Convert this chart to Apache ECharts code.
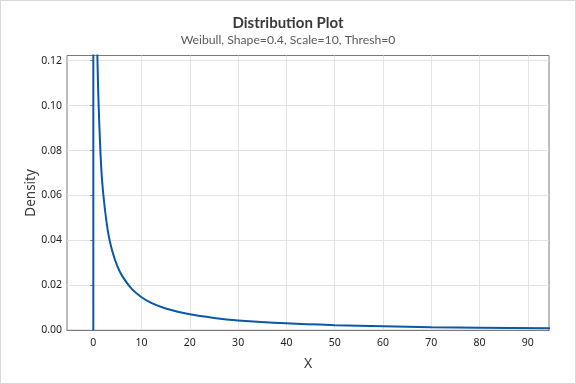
<!DOCTYPE html>
<html>
<head>
<meta charset="utf-8">
<script src="https://cdn.jsdelivr.net/npm/echarts@6/dist/echarts.min.js"></script>
<style>
html,body{margin:0;padding:0;background:#fff;}
#c{width:576px;height:384px;box-sizing:border-box;border:1px solid #d9d9d9;}
</style>
</head>
<body>
<div id="c"></div>
<script>
// Values
const xValues = [0, 0, 0.3, 0.5, 0.7, 1, 1.5, 2, 3, 4, 5, 6, 8, 10, 12, 15, 20, 25, 30, 40, 50, 60, 70, 80, 95];
const densityValues = [0, 0.3, 0.2565, 0.178, 0.1397, 0.107, 0.0782, 0.0621, 0.0444, 0.0347, 0.0284, 0.0241, 0.0183, 0.0147, 0.0122, 0.0097, 0.0071, 0.0055, 0.0044, 0.0031, 0.0023, 0.0018, 0.0014, 0.00116, 0.00089];
const xTicks = [0, 10, 20, 30, 40, 50, 60, 70, 80, 90];
const yTicks = [0, 0.02, 0.04, 0.06, 0.08, 0.10, 0.12];

const chart = echarts.init(document.getElementById('c'), null, {renderer: 'canvas'});
const font = 'Noto Sans, Open Sans, sans-serif';
const tfont = 'Lato, Noto Sans, sans-serif';
chart.setOption({
  animation: false,
  backgroundColor: '#fff',
  title: {
    text: 'Distribution Plot',
    subtext: 'Weibull, Shape=0.4, Scale=10, Thresh=0',
    left: 'center',
    top: 10,
    itemGap: 3,
    textStyle: {fontFamily: tfont, fontSize: 15, fontWeight: 'bold', color: '#3a3a3a'},
    subtextStyle: {fontFamily: tfont, fontSize: 12.2, color: '#5a5a5a'}
  },
  grid: {left: 66, right: 26, top: 54.5, bottom: 52.7, show: true, borderColor: '#7a7a7a', borderWidth: 1},
  xAxis: {
    type: 'value',
    min: -5.45, max: 94.4,
    name: 'X', nameLocation: 'middle', nameGap: 27, nameMoveOverlap: false,
    nameTextStyle: {fontFamily: font, fontSize: 14, color: '#3a3a3a'},
    axisLine: {show: true, lineStyle: {color: '#7a7a7a'}},
    axisTick: {show: false, customValues: xTicks},
    axisLabel: {customValues: xTicks, fontFamily: font, fontSize: 10.5, color: '#222', margin: 7.5},
    splitLine: {show: true, lineStyle: {color: '#e3e3e3'}}
  },
  yAxis: {
    type: 'value',
    min: 0, max: 0.1223,
    name: 'Density', nameLocation: 'middle', nameGap: 29, nameMoveOverlap: false,
    nameTextStyle: {fontFamily: font, fontSize: 13.5, color: '#3a3a3a'},
    axisLine: {show: true, lineStyle: {color: '#7a7a7a'}},
    axisTick: {show: true, length: 3, customValues: yTicks, lineStyle: {color: '#7a7a7a'}},
    axisLabel: {customValues: yTicks, fontFamily: font, fontSize: 10.5, color: '#222', margin: 5,
      formatter: v => v.toFixed(2)},
    splitLine: {show: true, lineStyle: {color: '#e3e3e3'}}
  },
  series: [{
    type: 'line',
    data: xValues.map((x, i) => [x, densityValues[i]]),
    showSymbol: false,
    smooth: 0.3,
    clip: true,
    lineStyle: {color: '#0b57a8', width: 2},
    itemStyle: {color: '#0b57a8'}
  }]
});
</script>
</body>
</html>
